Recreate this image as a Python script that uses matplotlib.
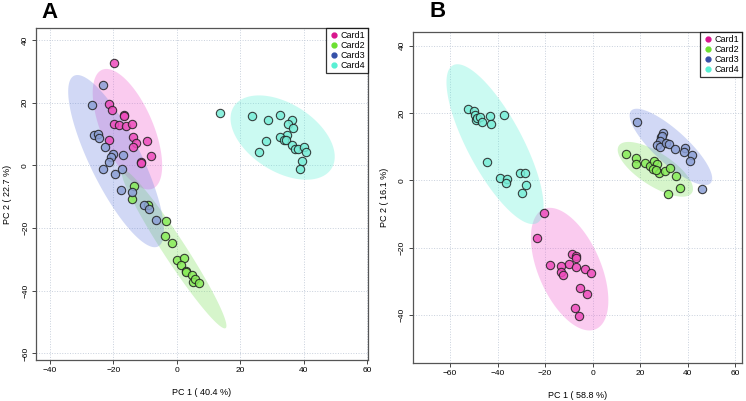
import numpy as np
import matplotlib
matplotlib.use('Agg')
import matplotlib.pyplot as plt
from matplotlib.colors import to_rgba
from matplotlib.lines import Line2D

plt.rcParams['font.family'] = ['Liberation Sans', 'DejaVu Sans']

labels = ['Card1', 'Card2', 'Card3', 'Card4']
colors = ['#D8168C', '#6CE030', '#3550A8', '#58F0D4']      # legend keys
pt_colors = ['#EE4CBC', '#88EC58', '#8CA0D6', '#78EED8']   # point fill
ell_colors = ['#F060D0', '#80E060', '#7088E0', '#60F0D8']  # ellipse fill

# ---- Panel A scores ----
a_card1_x = [-19.7, -21.3, -20.3, -16.5, -16.5, -19.7, -18.3, -16.0, -14.2, -13.8, -12.8, -13.9, -9.4, -8.2, -11.4, -11.4, -21.3]
a_card1_y = [32.7, 19.4, 17.6, 16.2, 15.6, 13.3, 12.8, 12.6, 13.3, 8.9, 7.1, 5.8, 7.7, 3.1, 1.2, 0.6, 8.0]
a_card2_x = [-13.5, -14.2, -9.0, -3.4, -3.7, -1.6, 0.0, 2.4, 1.3, 2.8, 2.9, 4.9, 5.0, 5.6, 7.0]
a_card2_y = [-6.7, -10.6, -12.5, -17.8, -22.4, -24.8, -30.1, -29.6, -31.9, -33.6, -34.0, -35.1, -37.1, -36.3, -37.5]
a_card3_x = [-23.3, -26.8, -26.0, -25.0, -24.4, -22.8, -20.0, -20.7, -21.4, -23.2, -19.5, -17.3, -17.0, -17.7, -14.0, -10.5, -8.7, -6.6]
a_card3_y = [25.6, 19.2, 9.8, 9.9, 8.8, 5.8, 3.7, 2.7, 0.9, -1.1, -2.8, -1.2, 3.2, -8.0, -8.5, -12.8, -13.8, -17.3]
a_card4_x = [13.7, 23.7, 28.7, 32.6, 36.3, 35.2, 36.6, 34.9, 32.6, 33.8, 34.4, 36.3, 37.3, 38.2, 40.2, 40.7, 39.4, 38.7, 28.2, 26.0]
a_card4_y = [16.7, 15.8, 14.6, 16.0, 14.4, 13.1, 12.0, 9.8, 9.0, 8.1, 8.0, 6.6, 5.3, 5.3, 5.9, 4.3, 1.3, -1.1, 7.8, 4.1]

# ---- Panel B scores ----
b_card1_x = [-20.6, -23.3, -17.8, -13.2, -9.9, -8.7, -6.9, -7.1, -6.9, -13.2, -12.5, -3.3, -0.8, -5.2, -2.6, -7.3, -5.7]
b_card1_y = [-9.7, -17.0, -25.0, -25.5, -24.8, -21.8, -22.3, -23.0, -25.8, -27.1, -28.0, -26.3, -27.6, -31.9, -33.7, -37.9, -40.4]
b_card2_x = [13.9, 18.4, 18.1, 21.9, 24.0, 25.8, 27.2, 25.4, 27.9, 30.3, 32.4, 35.0, 36.9, 31.7, 26.5]
b_card2_y = [7.8, 6.5, 5.0, 5.2, 4.2, 5.7, 5.0, 3.3, 2.1, 2.8, 3.7, 1.4, -2.2, -4.1, 3.0]
b_card3_x = [18.7, 29.6, 28.9, 29.2, 28.2, 27.2, 28.5, 31.0, 32.1, 34.5, 38.7, 38.3, 41.8, 40.8, 46.0]
b_card3_y = [17.3, 14.1, 12.9, 13.3, 11.7, 10.5, 9.9, 11.1, 10.7, 9.2, 9.6, 8.3, 7.5, 5.7, -2.7]
b_card4_x = [-52.4, -49.9, -49.6, -49.3, -48.5, -47.2, -46.5, -43.3, -42.9, -37.4, -44.4, -39.1, -36.0, -36.6, -30.7, -28.3, -27.9, -29.6]
b_card4_y = [21.2, 20.6, 19.3, 17.9, 18.5, 18.9, 17.2, 19.2, 16.6, 19.5, 5.4, 0.6, 0.3, -0.7, 2.1, 2.1, -1.4, -3.7]


def conf_ellipse(x, y, level=0.95, n=200):
    # 95% confidence ellipse from the group's covariance
    x = np.asarray(x)
    y = np.asarray(y)
    cov = np.cov(x, y)
    vals, vecs = np.linalg.eigh(cov)
    t = np.sqrt(-2 * np.log(1 - level))
    widen = np.array([1.2, 1.0])  # minor axis a bit wider, as in the reference
    th = np.linspace(0, 2 * np.pi, n)
    circ = np.vstack([np.cos(th), np.sin(th)])
    pts = vecs @ ((np.sqrt(vals) * widen)[:, None] * circ) * t
    return pts[0] + x.mean(), pts[1] + y.mean()


def draw_panel(ax, groups, xlim, ylim, xticks, yticks, xlab, ylab):
    for (gx, gy), c in zip(groups, ell_colors):
        ex, ey = conf_ellipse(gx, gy)
        ax.fill(ex, ey, color=c, alpha=0.32, lw=0, zorder=1)
    for (gx, gy), c in zip(groups, pt_colors):
        ax.scatter(gx, gy, s=36, facecolor=to_rgba(c, 0.85), edgecolor=to_rgba('#202020', 0.85),
                   linewidths=0.8, zorder=3)
    ax.set_xlim(xlim)
    ax.set_ylim(ylim)
    ax.set_xticks(xticks)
    ax.set_yticks(yticks)
    ax.grid(True, ls=':', color='#c8d0dc', lw=0.7, zorder=0)
    ax.set_axisbelow(True)
    ax.tick_params(labelsize=6, length=3, width=0.7, color='#444444', pad=2)
    for lab in ax.get_yticklabels():
        lab.set_rotation(90)
        lab.set_va('center')
    for sp in ax.spines.values():
        sp.set_color('#555555')
        sp.set_linewidth(0.9)
    ax.set_xlabel(xlab, fontsize=6.5, labelpad=10)
    ax.set_ylabel(ylab, fontsize=6.5, labelpad=7)
    handles = [Line2D([], [], marker='o', ls='', color=c, markersize=3.5) for c in colors]
    leg = ax.legend(handles, labels, loc='upper right', fontsize=6.5, frameon=True,
                    fancybox=False, edgecolor='black', borderaxespad=0,
                    handletextpad=0.1, labelspacing=0.12, borderpad=0.3,
                    handlelength=1.2)
    leg.get_frame().set_linewidth(0.9)


fig = plt.figure(figsize=(7.46, 4.01), dpi=100)
axA = fig.add_axes([0.0483, 0.1022, 0.445, 0.828])
axB = fig.add_axes([0.5536, 0.0948, 0.441, 0.825])

draw_panel(axA,
           [(a_card1_x, a_card1_y), (a_card2_x, a_card2_y),
            (a_card3_x, a_card3_y), (a_card4_x, a_card4_y)],
           (-44.4, 60.3), (-62.1, 43.8),
           [-40, -20, 0, 20, 40, 60], [-60, -40, -20, 0, 20, 40],
           'PC 1 ( 40.4 %)', 'PC 2 ( 22.7 %)')
draw_panel(axB,
           [(b_card1_x, b_card1_y), (b_card2_x, b_card2_y),
            (b_card3_x, b_card3_y), (b_card4_x, b_card4_y)],
           (-75.6, 62.8), (-54.2, 44.0),
           [-60, -40, -20, 0, 20, 40, 60], [-40, -20, 0, 20, 40],
           'PC 1 ( 58.8 %)', 'PC 2 ( 16.1 %)')

fig.text(0.056, 0.995, 'A', fontsize=16, fontweight='bold', ha='left', va='top')
fig.text(0.576, 0.997, 'B', fontsize=16, fontweight='bold', ha='left', va='top')

fig.savefig('out.png', dpi=100)
